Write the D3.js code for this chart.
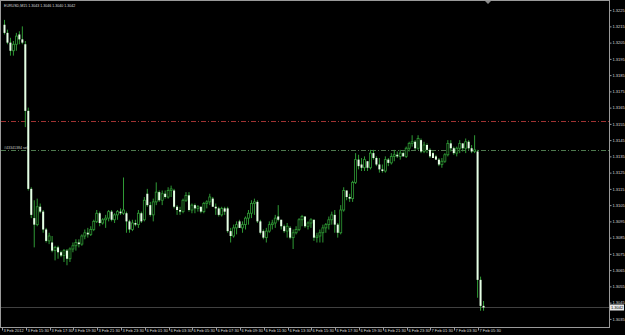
<!DOCTYPE html>
<html>
<head>
<meta charset="utf-8">
<script src="https://cdn.jsdelivr.net/npm/d3@7"></script>
<style>
  html, body { margin: 0; padding: 0; background: #000; overflow: hidden; }
  text { font-family: "Liberation Sans", Arial, sans-serif; }
</style>
</head>
<body>
<svg id="chart" width="625" height="335"></svg>
<script>
// EURUSD M15, 3 Feb 2012 13:30 .. 7 Feb 2012
const symbol = 'EURUSD,M15'

const opens = [1.3216,1.3211,1.3205,1.3200,1.3204,1.3210,1.3207,1.3204,1.3163,1.3115,
  1.3097,1.3093,1.3104,1.3101,1.3090,1.3083,1.3082,1.3077,1.3079,1.3076,
  1.3074,1.3077,1.3072,1.3078,1.3080,1.3082,1.3081,1.3086,1.3088,1.3087,
  1.3090,1.3095,1.3100,1.3094,1.3096,1.3097,1.3101,1.3096,1.3099,1.3101,
  1.3100,1.3100,1.3095,1.3090,1.3094,1.3093,1.3100,1.3096,1.3112,1.3105,
  1.3099,1.3107,1.3113,1.3108,1.3112,1.3110,1.3114,1.3114,1.3104,1.3102,
  1.3101,1.3108,1.3111,1.3102,1.3105,1.3103,1.3104,1.3101,1.3106,1.3107,
  1.3109,1.3104,1.3103,1.3099,1.3103,1.3103,1.3089,1.3086,1.3091,1.3095,
  1.3091,1.3093,1.3097,1.3100,1.3106,1.3107,1.3095,1.3089,1.3085,1.3089,
  1.3093,1.3094,1.3098,1.3096,1.3092,1.3089,1.3091,1.3085,1.3088,1.3090,
  1.3096,1.3098,1.3092,1.3094,1.3096,1.3085,1.3086,1.3088,1.3091,1.3093,
  1.3096,1.3099,1.3093,1.3088,1.3102,1.3114,1.3110,1.3109,1.3119,1.3133,
  1.3130,1.3128,1.3132,1.3128,1.3137,1.3134,1.3130,1.3127,1.3126,1.3133,
  1.3131,1.3135,1.3136,1.3135,1.3137,1.3135,1.3140,1.3143,1.3144,1.3140,
  1.3145,1.3138,1.3142,1.3139,1.3137,1.3135,1.3133,1.3130,1.3132,1.3136,
  1.3143,1.3140,1.3137,1.3140,1.3143,1.3140,1.3144,1.3140,1.3138,1.3138,
  1.3059,1.3043]

const highs = [1.3219,1.3213,1.3208,1.3206,1.3211,1.3212,1.3215,1.3206,1.3165,1.3116,
  1.3108,1.3109,1.3106,1.3102,1.3091,1.3088,1.3086,1.3080,1.3080,1.3077,
  1.3078,1.3078,1.3079,1.3082,1.3084,1.3084,1.3087,1.3090,1.3091,1.3092,
  1.3096,1.3102,1.3101,1.3097,1.3099,1.3102,1.3102,1.3100,1.3102,1.3103,
  1.3122,1.3101,1.3096,1.3096,1.3096,1.3102,1.3101,1.3110,1.3115,1.3107,
  1.3109,1.3119,1.3114,1.3114,1.3114,1.3116,1.3117,1.3115,1.3105,1.3104,
  1.3109,1.3113,1.3113,1.3106,1.3106,1.3105,1.3104,1.3107,1.3108,1.3112,
  1.3110,1.3106,1.3104,1.3104,1.3104,1.3104,1.3091,1.3093,1.3095,1.3096,
  1.3095,1.3098,1.3102,1.3108,1.3109,1.3108,1.3096,1.3090,1.3091,1.3095,
  1.3096,1.3099,1.3105,1.3096,1.3093,1.3094,1.3092,1.3090,1.3092,1.3097,
  1.3099,1.3098,1.3095,1.3097,1.3096,1.3088,1.3090,1.3093,1.3094,1.3098,
  1.3101,1.3102,1.3094,1.3105,1.3116,1.3114,1.3112,1.3120,1.3137,1.3136,
  1.3134,1.3135,1.3132,1.3139,1.3139,1.3135,1.3134,1.3130,1.3135,1.3134,
  1.3137,1.3139,1.3138,1.3139,1.3138,1.3141,1.3144,1.3148,1.3145,1.3148,
  1.3146,1.3144,1.3143,1.3140,1.3138,1.3136,1.3134,1.3134,1.3137,1.3145,
  1.3145,1.3141,1.3141,1.3145,1.3143,1.3146,1.3145,1.3142,1.3148,1.3139,
  1.3061,1.3046]

const lows = [1.3210,1.3204,1.3197,1.3197,1.3200,1.3204,1.3204,1.3153,1.3114,1.3097,
  1.3079,1.3092,1.3100,1.3088,1.3082,1.3081,1.3076,1.3071,1.3072,1.3073,
  1.3070,1.3068,1.3070,1.3076,1.3077,1.3079,1.3080,1.3084,1.3085,1.3086,
  1.3089,1.3094,1.3092,1.3093,1.3091,1.3095,1.3095,1.3094,1.3096,1.3099,
  1.3099,1.3088,1.3088,1.3089,1.3092,1.3091,1.3094,1.3095,1.3104,1.3098,
  1.3095,1.3105,1.3107,1.3105,1.3109,1.3109,1.3110,1.3103,1.3099,1.3099,
  1.3100,1.3107,1.3101,1.3100,1.3100,1.3101,1.3100,1.3100,1.3103,1.3105,
  1.3104,1.3099,1.3098,1.3098,1.3099,1.3088,1.3082,1.3085,1.3087,1.3091,
  1.3088,1.3090,1.3093,1.3097,1.3099,1.3094,1.3087,1.3084,1.3082,1.3088,
  1.3090,1.3091,1.3095,1.3090,1.3088,1.3085,1.3084,1.3078,1.3087,1.3089,
  1.3092,1.3091,1.3090,1.3091,1.3083,1.3082,1.3082,1.3082,1.3088,1.3090,
  1.3093,1.3088,1.3085,1.3087,1.3101,1.3108,1.3107,1.3107,1.3118,1.3127,
  1.3126,1.3126,1.3126,1.3127,1.3133,1.3129,1.3125,1.3125,1.3125,1.3129,
  1.3130,1.3132,1.3134,1.3133,1.3135,1.3134,1.3138,1.3141,1.3139,1.3139,
  1.3137,1.3137,1.3137,1.3134,1.3134,1.3133,1.3129,1.3128,1.3131,1.3135,
  1.3138,1.3136,1.3135,1.3137,1.3138,1.3137,1.3139,1.3137,1.3137,1.3048,
  1.3040,1.3040]

const closes = [1.3211,1.3205,1.3200,1.3204,1.3209,1.3207,1.3205,1.3163,1.3115,1.3099,
  1.3093,1.3104,1.3101,1.3090,1.3083,1.3086,1.3077,1.3079,1.3076,1.3074,
  1.3077,1.3072,1.3078,1.3080,1.3082,1.3081,1.3086,1.3088,1.3087,1.3090,
  1.3095,1.3100,1.3094,1.3096,1.3097,1.3101,1.3096,1.3099,1.3101,1.3100,
  1.3102,1.3095,1.3090,1.3094,1.3093,1.3100,1.3095,1.3108,1.3105,1.3099,
  1.3107,1.3113,1.3108,1.3112,1.3110,1.3114,1.3115,1.3104,1.3102,1.3101,
  1.3108,1.3111,1.3102,1.3105,1.3103,1.3104,1.3101,1.3106,1.3107,1.3110,
  1.3104,1.3103,1.3099,1.3103,1.3101,1.3089,1.3086,1.3091,1.3093,1.3091,
  1.3093,1.3097,1.3100,1.3106,1.3107,1.3095,1.3088,1.3085,1.3089,1.3093,
  1.3094,1.3097,1.3096,1.3092,1.3089,1.3092,1.3085,1.3088,1.3090,1.3096,
  1.3098,1.3092,1.3094,1.3096,1.3085,1.3086,1.3088,1.3091,1.3093,1.3096,
  1.3099,1.3093,1.3088,1.3102,1.3114,1.3110,1.3109,1.3119,1.3133,1.3129,
  1.3128,1.3133,1.3128,1.3137,1.3134,1.3130,1.3127,1.3126,1.3133,1.3131,
  1.3135,1.3136,1.3135,1.3137,1.3135,1.3140,1.3143,1.3144,1.3140,1.3146,
  1.3138,1.3142,1.3139,1.3135,1.3134,1.3133,1.3130,1.3132,1.3136,1.3143,
  1.3140,1.3137,1.3140,1.3143,1.3140,1.3144,1.3140,1.3138,1.3139,1.3059,
  1.3043,1.3042]

// one label every 8 bars (2 hours)
const timeLabels = ['3 Feb 2012','3 Feb 15:30','3 Feb 17:30','3 Feb 19:30','3 Feb 21:30','3 Feb 23:30',
  '6 Feb 01:30','6 Feb 03:30','6 Feb 05:30','6 Feb 07:30','6 Feb 09:30','6 Feb 11:30','6 Feb 13:30',
  '6 Feb 15:30','6 Feb 17:30','6 Feb 19:30','6 Feb 21:30','6 Feb 23:30','7 Feb 01:30','7 Feb 03:30','7 Feb 05:30']

const priceTicks = [1.3225,1.3215,1.3205,1.3195,1.3185,1.3175,1.3165,1.3155,1.3145,1.3135,
  1.3125,1.3115,1.3105,1.3095,1.3085,1.3075,1.3065,1.3055,1.3045,1.3035]

const orderLevel = 1.3139
const stopLevel = 1.3157
const orderText = '#43341384 sell'

const W = 625, H = 335
const plotLeft = 3, plotRight = 610, plotTop = 2, plotBottom = 327
const barsOnScreen = 204

const svg = d3.select('#chart')
svg.append('rect').attr('width', W).attr('height', H).attr('fill', '#000')

const bars = d3.range(opens.length)

const x = d3.scaleBand().domain(d3.range(barsOnScreen)).range([plotLeft, plotRight])
const cx = i => x(i) + x.bandwidth() / 2
const y = d3.scaleLinear().domain([1.3030, 1.3230]).range([plotBottom, plotTop])

const fmt = d3.format('.4f')
const axisColor = '#9a9a9a'
const textColor = '#dcdcdc'
const candleGreen = '#2f9a35'

// frame
svg.append('rect')
    .attr('x', 0.5).attr('y', 0.5)
    .attr('width', 609).attr('height', plotBottom)
    .attr('fill', 'none').attr('stroke', axisColor)

// order lines
svg.append('line')
    .attr('x1', 1).attr('x2', 609)
    .attr('y1', Math.round(y(stopLevel)) + 0.5).attr('y2', Math.round(y(stopLevel)) + 0.5)
    .attr('stroke', '#a03232').attr('stroke-dasharray', '5,2,1,2')
svg.append('line')
    .attr('x1', 1).attr('x2', 609)
    .attr('y1', Math.round(y(orderLevel)) + 0.5).attr('y2', Math.round(y(orderLevel)) + 0.5)
    .attr('stroke', '#4f7a4f').attr('stroke-dasharray', '5,2,1,2')
svg.append('text')
    .attr('x', 4).attr('y', Math.round(y(orderLevel)) - 1)
    .attr('font-size', 3.6).attr('fill', '#c8c8c8')
    .text(orderText)

// bid line
const bid = closes[closes.length - 1]
svg.append('line')
    .attr('x1', 1).attr('x2', 609)
    .attr('y1', Math.round(y(bid)) + 0.5).attr('y2', Math.round(y(bid)) + 0.5)
    .attr('stroke', '#404040')

// candles
const candles = svg.append('g')
candles.selectAll('line.wick')
    .data(bars)
    .enter()
    .append('line')
    .attr('class', 'wick')
    .attr('x1', d => cx(d)).attr('x2', d => cx(d))
    .attr('y1', d => y(highs[d])).attr('y2', d => y(lows[d]))
    .attr('stroke', candleGreen).attr('stroke-width', 1)

candles.selectAll('rect.body')
    .data(bars)
    .enter()
    .append('rect')
    .attr('class', 'body')
    .attr('x', d => cx(d) - 1)
    .attr('width', 2)
    .attr('y', d => y(Math.max(opens[d], closes[d])))
    .attr('height', d => Math.max(1, Math.abs(y(opens[d]) - y(closes[d]))))
    .attr('fill', d => (closes[d] < opens[d] ? '#e6ffe6' : '#000'))
    .attr('stroke', d => (closes[d] < opens[d] ? 'none' : candleGreen))
    .attr('stroke-width', 0.8)

// price axis
const yAxis = svg.append('g')
    .attr('transform', 'translate(609.5,0)')
    .call(d3.axisRight(y).tickValues(priceTicks).tickSize(2).tickPadding(1).tickFormat(fmt))
yAxis.select('.domain').remove()
yAxis.selectAll('line').attr('stroke', axisColor)
yAxis.selectAll('text')
    .attr('font-size', 4).attr('fill', textColor)
    .attr('font-family', '"Liberation Sans", Arial, sans-serif')

// bid label
svg.append('rect')
    .attr('x', 610).attr('y', y(bid) - 3)
    .attr('width', 14).attr('height', 6)
    .attr('fill', '#e8e8e8')
svg.append('text')
    .attr('x', 611).attr('y', y(bid) + 1.5)
    .attr('font-size', 4).attr('fill', '#000')
    .text(fmt(bid))

// time axis
const labelBars = timeLabels.map((d, k) => k * 8)
const xAxis = svg.append('g')
    .attr('transform', 'translate(0,' + (plotBottom + 0.5) + ')')
    .call(d3.axisBottom(x).tickValues(labelBars).tickSize(3).tickFormat((d, k) => timeLabels[k]))
xAxis.select('.domain').remove()
xAxis.selectAll('.tick').attr('transform', d => 'translate(' + (Math.round(x(d)) - 0.5) + ',0)')
xAxis.selectAll('line').attr('stroke', axisColor)
xAxis.selectAll('text')
    .attr('font-size', 4).attr('fill', textColor)
    .attr('text-anchor', 'start').attr('x', 1).attr('y', 1.5)
    .attr('font-family', '"Liberation Sans", Arial, sans-serif')

// header
const n = opens.length - 1
svg.append('text')
    .attr('x', 4).attr('y', 6.5)
    .attr('font-size', 3.6).attr('fill', textColor)
    .text(symbol + '  ' + [opens[n], highs[n], lows[n], closes[n]].map(fmt).join(' '))

// chart shift marker
svg.append('path')
    .attr('d', 'M485,1 L491,1 L488,4 Z')
    .attr('fill', '#8a8a8a')
</script>
</body>
</html>
